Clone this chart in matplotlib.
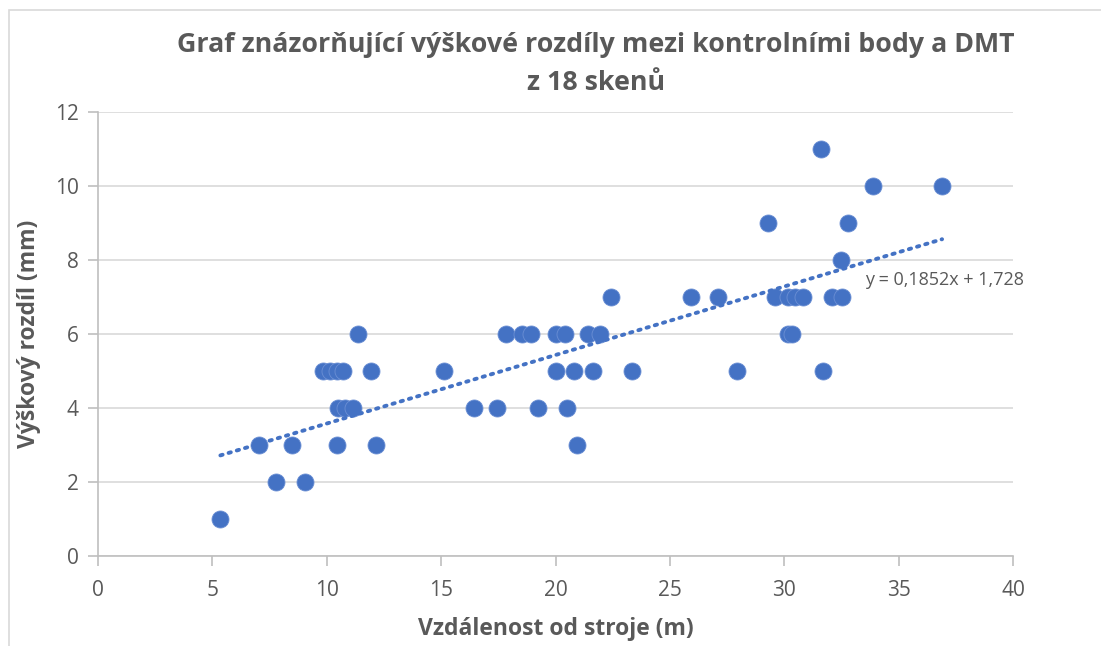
import numpy as np
import matplotlib.pyplot as plt
from matplotlib.patches import Rectangle

plt.rcParams['font.family'] = ['Open Sans', 'DejaVu Sans']

# vzdálenost od stroje (m) a výškový rozdíl (mm)
vzdalenost = [5.35, 7.04, 7.78, 8.46, 9.05,
              9.84, 10.14, 10.45, 10.71, 11.93, 11.37,
              10.5, 10.8, 11.15, 10.45, 12.15,
              15.13, 16.44, 17.44, 17.84, 18.53, 18.93, 19.23,
              20.02, 20.02, 20.42, 20.5, 20.81, 20.94, 21.42, 21.64, 21.95,
              22.43, 23.34,
              25.92, 27.1, 27.93, 29.29, 29.6, 30.16, 30.16, 30.34, 30.47,
              30.82, 31.6, 31.69, 32.09, 32.48, 32.52, 32.79, 33.88, 36.9]
rozdil = [1, 3, 2, 3, 2,
          5, 5, 5, 5, 5, 6,
          4, 4, 4, 3, 3,
          5, 4, 4, 6, 6, 6, 4,
          6, 5, 6, 4, 5, 3, 6, 5, 6,
          7, 5,
          7, 7, 5, 9, 7, 7, 6, 6, 7,
          7, 11, 5, 7, 8, 7, 9, 10, 10]

# lineární trend (Excel)
k, q = 0.1852, 1.728

modra = '#4472C4'
seda = '#595959'

fig = plt.figure(figsize=(11.01, 6.46), dpi=100)
ax = fig.add_axes([98 / 1101, 1 - 556 / 646, (1013 - 98) / 1101, (556 - 112) / 646])

# rámeček grafu
fig.patches.append(Rectangle((9 / 1101, -0.1), 1.2, 1 - 10 / 646 + 0.1,
                             transform=fig.transFigure, fill=False,
                             edgecolor='#D9D9D9', linewidth=1.2))

ax.scatter(vzdalenost, rozdil, s=150, color=modra, edgecolors='#6B8FD4',
           linewidths=0.6, zorder=3)

xt = np.array([min(vzdalenost), max(vzdalenost)])
ax.plot(xt, k * xt + q, linestyle=(0, (0.6, 1.6)), color=modra, linewidth=2.8,
        dash_capstyle='round', zorder=4)
ax.text(33.55, 7.45, 'y = 0,1852x + 1,728', fontsize=13,
        color=seda, ha='left', va='center')

ax.set_xlim(0, 40)
ax.set_ylim(0, 12)
ax.set_xticks(range(0, 41, 5))
ax.set_yticks(range(0, 13, 2))
ax.yaxis.grid(True, color='#D9D9D9', linewidth=1.2)
ax.set_axisbelow(True)
for s in ['top', 'right']:
    ax.spines[s].set_visible(False)
for s in ['left', 'bottom']:
    ax.spines[s].set_color('#BFBFBF')
    ax.spines[s].set_linewidth(1.2)
ax.tick_params(axis='both', colors='#BFBFBF', labelcolor=seda, labelsize=15,
               length=7, width=1.2, direction='out', pad=7)
ax.tick_params(axis='x', pad=10)

ax.set_xlabel('Vzdálenost od stroje (m)', fontsize=16.5, fontweight='bold',
              color=seda, labelpad=12)
ax.set_ylabel('Výškový rozdíl (mm)', fontsize=16.5, fontweight='bold',
              color=seda, labelpad=10)
fig.text(0.5413, 1 - 64 / 646,
         'Graf znázorňující výškové rozdíly mezi kontrolními body a DMT\nz 18 skenů',
         ha='center', va='center', fontsize=19.3, fontweight='bold', color=seda,
         linespacing=1.55)

fig.savefig('out.png', dpi=100)
